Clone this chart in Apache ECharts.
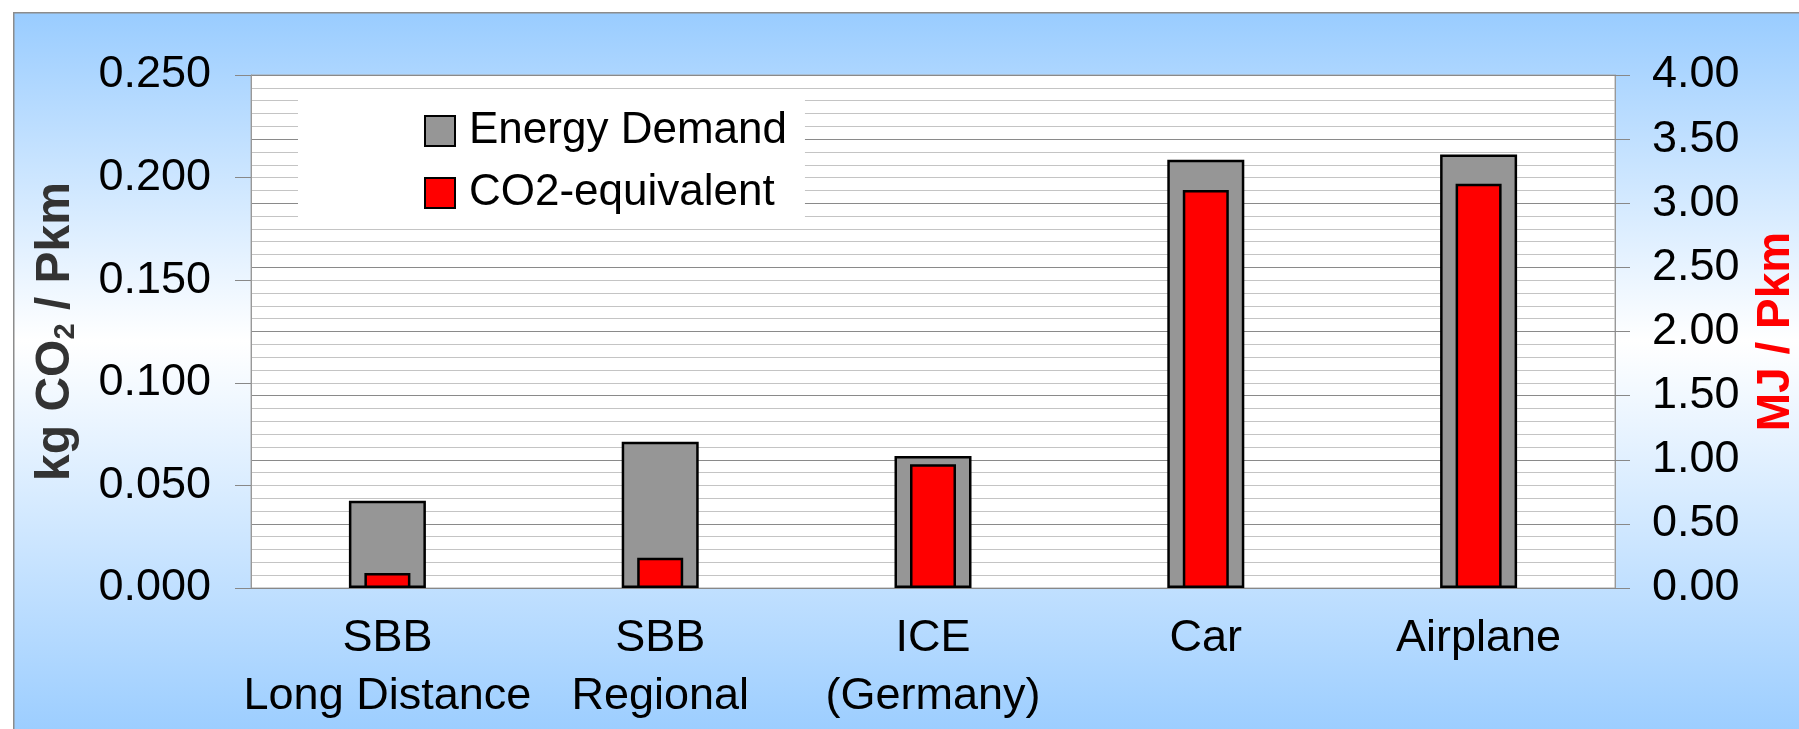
<!DOCTYPE html>
<html>
<head>
<meta charset="utf-8">
<script src="https://cdn.jsdelivr.net/npm/echarts@6/dist/echarts.min.js"></script>
<style>
  html, body { margin: 0; padding: 0; background: #fff; }
  #main { width: 1799px; height: 729px; }
</style>
</head>
<body>
<div id="main"></div>
<script>
// data
var categories = ['SBB\nLong Distance', 'SBB\nRegional', 'ICE\n(Germany)', 'Car', 'Airplane'];
var energyDemand = [0.68, 1.14, 1.03, 3.34, 3.38];          // MJ / Pkm
var co2Equivalent = [0.0073, 0.0148, 0.0603, 0.194, 0.197];  // kg CO2 / Pkm
var kgAxis = { min: 0, max: 0.25, step: 0.05 };
var mjAxis = { min: 0, max: 4, step: 0.5 };

var mainFont = "'Liberation Sans', Arial, sans-serif";

var myChart = echarts.init(document.getElementById('main'));

myChart.setOption({
    animation: false,
    textStyle: { fontFamily: mainFont },
    // blue gradient panel behind the chart
    graphic: [{
        type: 'rect',
        left: 13, top: 12, z: -10,
        shape: { width: 1800, height: 730 },
        style: {
            fill: new echarts.graphic.LinearGradient(0, 0, 0, 1, [
                { offset: 0, color: '#99ccff' },
                { offset: 0.45, color: '#ffffff' },
                { offset: 1, color: '#99ccff' }
            ]),
            stroke: '#8c8c8c',
            lineWidth: 1.5
        }
    }],
    legend: {
        orient: 'vertical',
        left: 298, top: 95,
        backgroundColor: '#ffffff',
        padding: [14, 18, 8, 126],
        itemWidth: 30, itemHeight: 30,
        itemGap: 18,
        icon: 'rect',
        textStyle: { fontSize: 44, color: '#000', fontFamily: mainFont, padding: [0, 0, 0, 9] },
        data: ['Energy Demand', 'CO2-equivalent']
    },
    grid: {
        left: 251, right: 184, top: 75, bottom: 141,
        outerBoundsMode: 'none',
        show: true, backgroundColor: '#ffffff', borderColor: '#a8a8a8', borderWidth: 1
    },
    xAxis: [{
        type: 'category', data: categories,
        axisLine: { lineStyle: { color: '#888' } },
        axisTick: { show: false },
        axisLabel: {
            interval: 0,
            fontSize: 45, color: '#000', fontFamily: mainFont,
            lineHeight: 58, margin: 22, verticalAlign: 'top'
        }
    }, {
        // second category axis so the red bars sit centred inside the grey ones
        type: 'category', data: categories, show: false
    }],
    yAxis: [{
        type: 'value', position: 'left',
        min: kgAxis.min, max: kgAxis.max, interval: kgAxis.step,
        name: '{a|kg CO}{s|2}{a| / Pkm}',
        nameLocation: 'middle', nameGap: 171, nameRotate: 90,
        nameTextStyle: {
            rich: {
                a: { fontSize: 48, fontWeight: 'bold', color: '#333', fontFamily: mainFont },
                s: { fontSize: 29, fontWeight: 'bold', color: '#333', fontFamily: mainFont, verticalAlign: 'bottom' }
            }
        },
        axisLine: { show: true, lineStyle: { color: '#999' } },
        axisTick: { show: true, length: 16, lineStyle: { color: '#888' } },
        axisLabel: {
            fontSize: 45, color: '#000', fontFamily: mainFont, margin: 40,
            formatter: function (v) { return v.toFixed(3); }
        },
        splitLine: { show: false }
    }, {
        type: 'value', position: 'right',
        min: mjAxis.min, max: mjAxis.max, interval: mjAxis.step,
        name: 'MJ / Pkm',
        nameLocation: 'middle', nameGap: 138, nameRotate: 90,
        nameTextStyle: { fontSize: 46, fontWeight: 'bold', color: '#ff0000', fontFamily: mainFont },
        axisLine: { show: true, lineStyle: { color: '#999' } },
        axisTick: { show: true, length: 15, lineStyle: { color: '#888' } },
        axisLabel: {
            fontSize: 45, color: '#000', fontFamily: mainFont, margin: 37,
            formatter: function (v) { return v.toFixed(2); }
        },
        splitLine: { show: true, lineStyle: { color: '#8a8a8a', width: 1 } },
        minorTick: { show: false, splitNumber: 5 },
        minorSplitLine: { show: true, lineStyle: { color: '#c4c4c4', width: 1 } }
    }],
    series: [{
        name: 'Energy Demand',
        type: 'bar',
        xAxisIndex: 0, yAxisIndex: 1,
        barWidth: 77,
        itemStyle: { color: '#969696', borderColor: '#000', borderWidth: 2.5 },
        data: energyDemand
    }, {
        name: 'CO2-equivalent',
        type: 'bar',
        xAxisIndex: 1, yAxisIndex: 0,
        barWidth: 46,
        z: 3,
        itemStyle: { color: '#ff0000', borderColor: '#000', borderWidth: 2.5 },
        data: co2Equivalent
    }]
});
</script>
</body>
</html>
